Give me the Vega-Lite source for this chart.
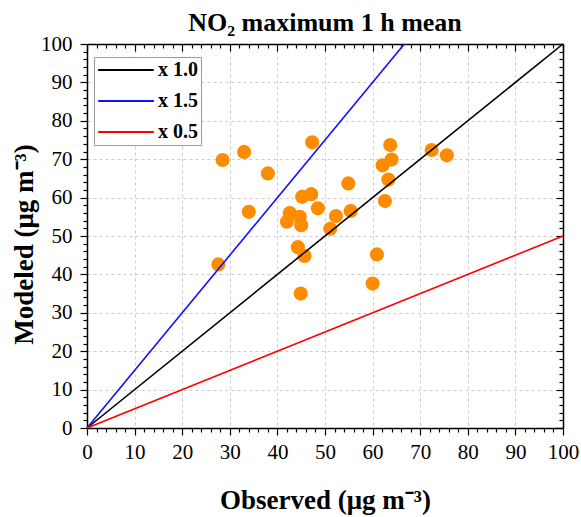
{
  "$schema": "https://vega.github.io/schema/vega-lite/v6.json",
  "width": 476,
  "height": 384,
  "autosize": "none",
  "padding": {"left": 87, "top": 44, "right": 18, "bottom": 89},
  "background": "white",
  "config": {
    "font": "Liberation Serif",
    "view": {"stroke": null}
  },
  "title": {
    "text": "NO₂ maximum 1 h mean",
    "fontSize": 26,
    "fontWeight": "bold",
    "font": "Liberation Serif",
    "color": "black",
    "anchor": "middle",
    "offset": -3
  },
  "datasets": {
    "points": [
      {"obs": 27.6, "mod": 42.6},
      {"obs": 28.5, "mod": 69.8},
      {"obs": 33.0, "mod": 71.9},
      {"obs": 34.0, "mod": 56.3},
      {"obs": 38.0, "mod": 66.3},
      {"obs": 42.0, "mod": 53.7},
      {"obs": 42.6, "mod": 56.0},
      {"obs": 44.3, "mod": 47.1},
      {"obs": 44.7, "mod": 55.0},
      {"obs": 44.9, "mod": 35.0},
      {"obs": 45.0, "mod": 52.8},
      {"obs": 45.2, "mod": 60.2},
      {"obs": 45.7, "mod": 44.8},
      {"obs": 47.1, "mod": 60.9},
      {"obs": 47.3, "mod": 74.4},
      {"obs": 48.5, "mod": 57.2},
      {"obs": 51.1, "mod": 51.9},
      {"obs": 52.3, "mod": 55.2},
      {"obs": 54.9, "mod": 63.7},
      {"obs": 55.4, "mod": 56.5},
      {"obs": 60.0, "mod": 37.6},
      {"obs": 60.9, "mod": 45.2},
      {"obs": 62.1, "mod": 68.4},
      {"obs": 62.6, "mod": 59.1},
      {"obs": 63.3, "mod": 64.7},
      {"obs": 63.7, "mod": 73.7},
      {"obs": 64.0, "mod": 69.9},
      {"obs": 72.4, "mod": 72.4},
      {"obs": 75.6, "mod": 71.0}
    ],
    "lines": [
      {"series": "x 1.0", "obs": 0, "mod": 0},
      {"series": "x 1.0", "obs": 100, "mod": 100},
      {"series": "x 1.5", "obs": 0, "mod": 0},
      {"series": "x 1.5", "obs": 66.667, "mod": 100},
      {"series": "x 0.5", "obs": 0, "mod": 0},
      {"series": "x 0.5", "obs": 100, "mod": 50}
    ]
  },
  "layer": [
    {
      "data": {"name": "points"},
      "mark": {"type": "circle", "size": 200, "color": "#FF8C00", "opacity": 1},
      "encoding": {
        "x": {
          "field": "obs", "type": "quantitative",
          "scale": {"domain": [0, 100], "nice": false, "zero": false},
          "axis": {
            "orient": "bottom",
            "values": [0,2,4,6,8,10,12,14,16,18,20,22,24,26,28,30,32,34,36,38,40,42,44,46,48,50,52,54,56,58,60,62,64,66,68,70,72,74,76,78,80,82,84,86,88,90,92,94,96,98,100],
            "labelExpr": "datum.value % 10 === 0 ? datum.label : ''",
            "labelOverlap": false,
            "labelFlush": false,
            "labelFont": "Liberation Serif",
            "labelFontSize": 21,
            "labelColor": "black",
            "labelPadding": 6,
            "tickColor": "black",
            "tickWidth": 1.2,
            "tickSize": {"condition": {"test": "datum.value % 10 === 0", "value": 7}, "value": 4},
            "domainColor": "black",
            "domainWidth": 1.5,
            "grid": true,
            "gridColor": "#cccccc",
            "gridDash": [3, 3],
            "gridWidth": 1,
            "gridOpacity": {"condition": {"test": "datum.value % 10 === 0 && datum.value > 0 && datum.value < 100", "value": 1}, "value": 0},
            "title": "Observed (μg m⁻³)",
            "titleFont": "Liberation Serif",
            "titleFontSize": 27,
            "titleFontWeight": "bold",
            "titleColor": "black",
            "titleBaseline": "alphabetic",
            "titleY": 80
          }
        },
        "y": {
          "field": "mod", "type": "quantitative",
          "scale": {"domain": [0, 100], "nice": false, "zero": false},
          "axis": {
            "orient": "left",
            "values": [0,2,4,6,8,10,12,14,16,18,20,22,24,26,28,30,32,34,36,38,40,42,44,46,48,50,52,54,56,58,60,62,64,66,68,70,72,74,76,78,80,82,84,86,88,90,92,94,96,98,100],
            "labelExpr": "datum.value % 10 === 0 ? datum.label : ''",
            "labelOverlap": false,
            "labelFlush": false,
            "labelFont": "Liberation Serif",
            "labelFontSize": 21,
            "labelColor": "black",
            "labelPadding": 8,
            "tickColor": "black",
            "tickWidth": 1.2,
            "tickSize": {"condition": {"test": "datum.value % 10 === 0", "value": 7}, "value": 4},
            "domainColor": "black",
            "domainWidth": 1.5,
            "grid": true,
            "gridColor": "#cccccc",
            "gridDash": [3, 3],
            "gridWidth": 1,
            "gridOpacity": {"condition": {"test": "datum.value % 10 === 0 && datum.value > 0 && datum.value < 100", "value": 1}, "value": 0},
            "title": "Modeled (μg m⁻³)",
            "titleFont": "Liberation Serif",
            "titleFontSize": 27,
            "titleFontWeight": "bold",
            "titleColor": "black",
            "titleBaseline": "alphabetic",
            "titleAngle": 270,
            "titleX": -55,
            "titleY": 200
          }
        }
      }
    },
    {
      "data": {"name": "lines"},
      "mark": {"type": "line", "strokeWidth": 1.6},
      "encoding": {
        "x": {
          "field": "obs", "type": "quantitative",
          "axis": {
            "orient": "top",
            "values": [0,2,4,6,8,10,12,14,16,18,20,22,24,26,28,30,32,34,36,38,40,42,44,46,48,50,52,54,56,58,60,62,64,66,68,70,72,74,76,78,80,82,84,86,88,90,92,94,96,98,100],
            "labels": false,
            "grid": false,
            "title": null,
            "tickColor": "black",
            "tickWidth": 1.2,
            "tickSize": {"condition": {"test": "datum.value % 10 === 0", "value": -7}, "value": -4},
            "domainColor": "black",
            "domainWidth": 1.5
          }
        },
        "y": {
          "field": "mod", "type": "quantitative",
          "axis": {
            "orient": "right",
            "values": [0,2,4,6,8,10,12,14,16,18,20,22,24,26,28,30,32,34,36,38,40,42,44,46,48,50,52,54,56,58,60,62,64,66,68,70,72,74,76,78,80,82,84,86,88,90,92,94,96,98,100],
            "labels": false,
            "grid": false,
            "title": null,
            "tickColor": "black",
            "tickWidth": 1.2,
            "tickSize": {"condition": {"test": "datum.value % 10 === 0", "value": -7}, "value": -4},
            "domainColor": "black",
            "domainWidth": 1.5
          }
        },
        "color": {
          "field": "series", "type": "nominal", "sort": null,
          "scale": {"domain": ["x 1.0", "x 1.5", "x 0.5"], "range": ["#000000", "#1010ff", "#ff0000"]},
          "legend": {
            "title": null,
            "orient": "none",
            "legendX": 7,
            "legendY": 13,
            "symbolType": "stroke",
            "symbolSize": 3100,
            "symbolStrokeWidth": 2,
            "clipHeight": 20,
            "labelFont": "Liberation Serif",
            "labelFontSize": 20,
            "labelFontWeight": "bold",
            "labelColor": "black",
            "labelOffset": 3,
            "rowPadding": 11,
            "padding": 3,
            "strokeColor": "#999999",
            "fillColor": "white"
          }
        }
      }
    }
  ],
  "resolve": {"scale": {"x": "shared", "y": "shared"}, "axis": {"x": "independent", "y": "independent"}}
}
